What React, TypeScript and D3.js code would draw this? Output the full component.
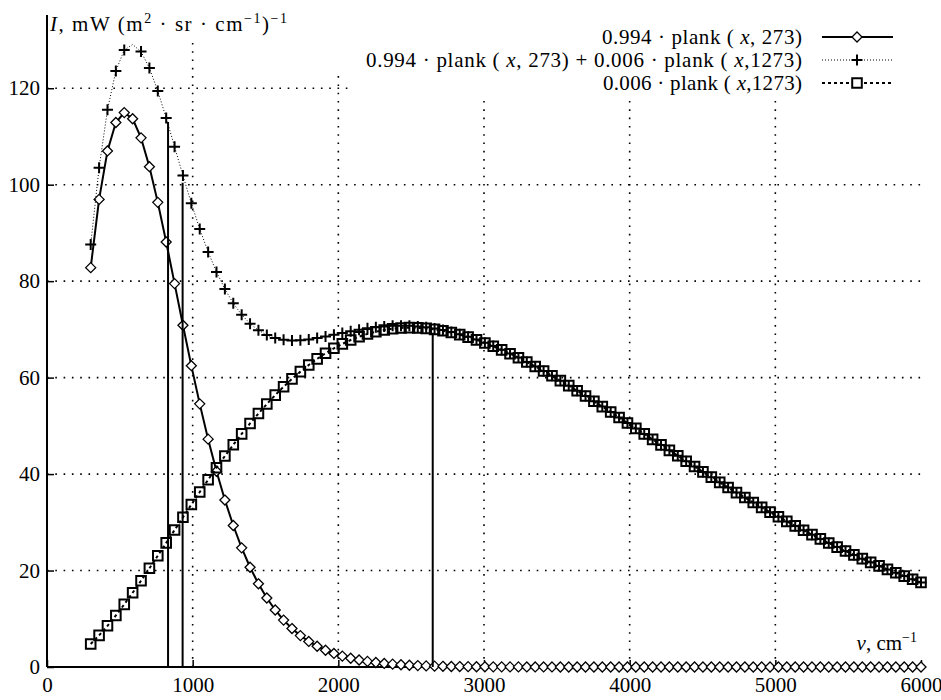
import React, { useRef, useEffect } from 'react';
import * as d3 from 'd3';

// wavenumber samples, cm^-1
const nu = [
  300, 357.6, 415.2, 472.7, 530.3, 587.9, 645.5, 703.0, 760.6, 818.2,
  875.8, 933.3, 990.9, 1048.5, 1106.1, 1163.6, 1221.2, 1278.8, 1336.4, 1393.9,
  1451.5, 1509.1, 1566.7, 1624.2, 1681.8, 1739.4, 1797.0, 1854.5, 1912.1, 1969.7,
  2027.3, 2084.8, 2142.4, 2200.0, 2257.6, 2315.2, 2372.7, 2430.3, 2487.9, 2545.5,
  2603.0, 2660.6, 2718.2, 2775.8, 2833.3, 2890.9, 2948.5, 3006.1, 3063.6, 3121.2,
  3178.8, 3236.4, 3293.9, 3351.5, 3409.1, 3466.7, 3524.2, 3581.8, 3639.4, 3697.0,
  3754.5, 3812.1, 3869.7, 3927.3, 3984.8, 4042.4, 4100.0, 4157.6, 4215.2, 4272.7,
  4330.3, 4387.9, 4445.5, 4503.0, 4560.6, 4618.2, 4675.8, 4733.3, 4790.9, 4848.5,
  4906.1, 4963.6, 5021.2, 5078.8, 5136.4, 5193.9, 5251.5, 5309.1, 5366.7, 5424.2,
  5481.8, 5539.4, 5597.0, 5654.5, 5712.1, 5769.7, 5827.3, 5884.8, 5942.4, 6000,
];

// 0.994 * plank(x, 273)
const cold = [
  82.80, 96.95, 107.00, 112.89, 114.95, 113.67, 109.71, 103.73, 96.34, 88.11,
  79.49, 70.85, 62.47, 54.56, 47.24, 40.58, 34.61, 29.33, 24.70, 20.69,
  17.25, 14.31, 11.82, 9.72, 7.97, 6.51, 5.30, 4.30, 3.48, 2.81,
  2.26, 1.81, 1.45, 1.16, 0.93, 0.74, 0.59, 0.47, 0.37, 0.29,
  0.23, 0.18, 0.14, 0.11, 0.09, 0.07, 0.05, 0.04, 0.03, 0.03,
  0.02, 0.02, 0.01, 0.01, 0.01, 0.01, 0, 0, 0, 0,
  0, 0, 0, 0, 0, 0, 0, 0, 0, 0,
  0, 0, 0, 0, 0, 0, 0, 0, 0, 0,
  0, 0, 0, 0, 0, 0, 0, 0, 0, 0,
  0, 0, 0, 0, 0, 0, 0, 0, 0, 0,
];

// 0.994 * plank(x, 273) + 0.006 * plank(x, 1273)
const mixed = [
  87.58, 103.51, 115.54, 123.58, 127.93, 129.06, 127.60, 124.19, 119.42, 113.84,
  107.88, 101.89, 96.15, 90.83, 86.06, 81.90, 78.35, 75.41, 73.04, 71.19,
  69.81, 68.83, 68.19, 67.83, 67.70, 67.75, 67.92, 68.19, 68.52, 68.89,
  69.25, 69.60, 69.93, 70.22, 70.45, 70.62, 70.73, 70.77, 70.73, 70.61,
  70.43, 70.18, 69.85, 69.45, 69.00, 68.47, 67.88, 67.23, 66.53, 65.79,
  64.98, 64.15, 63.25, 62.33, 61.38, 60.39, 59.37, 58.33, 57.27, 56.19,
  55.09, 53.99, 52.87, 51.74, 50.60, 49.47, 48.33, 47.19, 46.05, 44.92,
  43.79, 42.67, 41.56, 40.45, 39.36, 38.28, 37.22, 36.16, 35.13, 34.11,
  33.10, 32.11, 31.14, 30.19, 29.25, 28.34, 27.44, 26.56, 25.70, 24.86,
  24.04, 23.24, 22.46, 21.70, 20.96, 20.24, 19.53, 18.85, 18.18, 17.54,
];

// 0.006 * plank(x, 1273)
const hot = [
  4.78, 6.56, 8.54, 10.69, 12.98, 15.39, 17.89, 20.46, 23.08, 25.73,
  28.39, 31.04, 33.68, 36.27, 38.82, 41.32, 43.74, 46.08, 48.34, 50.50,
  52.56, 54.52, 56.37, 58.11, 59.73, 61.24, 62.62, 63.89, 65.04, 66.08,
  66.99, 67.79, 68.48, 69.06, 69.52, 69.88, 70.14, 70.30, 70.36, 70.32,
  70.20, 70.00, 69.71, 69.34, 68.91, 68.40, 67.83, 67.19, 66.50, 65.76,
  64.96, 64.13, 63.24, 62.32, 61.37, 60.38, 59.37, 58.33, 57.27, 56.19,
  55.09, 53.99, 52.87, 51.74, 50.60, 49.47, 48.33, 47.19, 46.05, 44.92,
  43.79, 42.67, 41.56, 40.45, 39.36, 38.28, 37.22, 36.16, 35.13, 34.11,
  33.10, 32.11, 31.14, 30.19, 29.25, 28.34, 27.44, 26.56, 25.70, 24.86,
  24.04, 23.24, 22.46, 21.70, 20.96, 20.24, 19.53, 18.85, 18.18, 17.54,
];

// vertical marker lines
const impulseX = [831, 931, 2648];
const impulseTop = [113.0, 100.4, 69.3];

const xTicks = [0, 1000, 2000, 3000, 4000, 5000, 6000];
const yTicks = [0, 20, 40, 60, 80, 100, 120];

const legendLabels = [
  [['0.994 · plank ( '], ['x', 'i'], [', 273)']],
  [['0.994 · plank ( '], ['x', 'i'], [', 273)  + 0.006 · plank ( '], ['x', 'i'], [',1273)']],
  [['0.006 · plank ( '], ['x', 'i'], [',1273)']],
];
const legendWidths = [200, 436, 199];

const FONT = "'Liberation Serif', 'DejaVu Serif', serif";

const markerPath = {
  diamond: (r) => `M0,${-r}L${r},0L0,${r}L${-r},0Z`,
  plus: (r) => `M${-r},0H${r}M0,${-r}V${r}`,
  square: (r) => `M${-r},${-r}H${r}V${r}H${-r}Z`,
};

function richText(sel, parts, supSize = 14, shift = 8) {
  let up = false;
  parts.forEach(([t, s]) => {
    const ts = sel.append('tspan').text(t);
    if (s === 'i') ts.style('font-style', 'italic');
    if (s === 'sup') {
      ts.style('font-size', `${supSize}px`);
      if (!up) ts.attr('dy', -shift);
      up = true;
    } else if (up) {
      ts.attr('dy', shift);
      up = false;
    }
  });
}

const App = () => {
  const ref = useRef(null);

  useEffect(() => {
    const svg = d3.select(ref.current);
    svg.selectAll('*').remove();

    const x = d3.scaleLinear().domain([0, 6000]).range([47, 921]);
    const y = d3.scaleLinear().domain([0, 130]).range([667, 40]);

    svg.append('rect').attr('width', 941).attr('height', 700).attr('fill', '#fff');

    // grid
    const grid = svg.append('g')
      .attr('stroke', '#000')
      .attr('stroke-width', 1.6)
      .attr('stroke-dasharray', '1.6 6.7');
    grid.selectAll('line.h')
      .data(yTicks.slice(1))
      .join('line')
      .attr('x1', x(0)).attr('x2', x(6000))
      .attr('y1', d => y(d)).attr('y2', d => y(d));
    grid.selectAll('line.v')
      .data(xTicks.slice(1, -1))
      .join('line')
      .attr('x1', d => x(d)).attr('x2', d => x(d))
      .attr('y1', y(0)).attr('y2', y(130));

    // opaque key area
    svg.append('rect').attr('x', 352).attr('y', 0).attr('width', 589).attr('height', 97).attr('fill', '#fff');
    svg.append('rect').attr('x', 300).attr('y', 0).attr('width', 52).attr('height', 70).attr('fill', '#fff');

    // axes ticks + labels
    const xAxis = svg.append('g')
      .attr('transform', `translate(0,${y(0)})`)
      .attr('font-family', null)
      .call(d3.axisBottom(x).tickValues(xTicks).tickSizeInner(-7).tickSizeOuter(0).tickPadding(10).tickFormat(d3.format('d')));
    xAxis.select('.domain').remove();
    xAxis.attr('font-family', null).style('font-family', FONT);
    xAxis.selectAll('line').attr('stroke-width', 1.5);
    xAxis.selectAll('text').style('font-family', FONT).style('font-size', '21px').attr('fill', '#000');

    const yAxis = svg.append('g')
      .attr('transform', `translate(${x(0)},0)`)
      .call(d3.axisLeft(y).tickValues(yTicks).tickSizeInner(-7).tickSizeOuter(0).tickPadding(7));
    yAxis.select('.domain').remove();
    yAxis.attr('font-family', null).style('font-family', FONT);
    yAxis.selectAll('line').attr('stroke-width', 1.5);
    yAxis.selectAll('text').style('font-family', FONT).style('font-size', '21px').attr('fill', '#000');

    // axis lines
    svg.append('line').attr('x1', x(0)).attr('x2', x(0)).attr('y1', 15).attr('y2', y(0))
      .attr('stroke', '#000').attr('stroke-width', 2);
    svg.append('line').attr('x1', x(0)).attr('x2', x(6000)).attr('y1', y(0)).attr('y2', y(0))
      .attr('stroke', '#000').attr('stroke-width', 2);

    const series = [
      { values: cold, dash: null, width: 2, marker: 'diamond', r: 5, fill: '#fff', mw: 1.3 },
      { values: mixed, dash: '1 2', width: 1, marker: 'plus', r: 5.5, fill: 'none', mw: 2 },
      { values: hot, dash: '3 3', width: 2, marker: 'square', r: 4.8, fill: 'none', mw: 2 },
    ];

    const line = d3.line().x(d => x(d[0])).y(d => y(d[1]));

    series.forEach(s => {
      const pts = nu.map((v, i) => [v, s.values[i]]);
      svg.append('path')
        .datum(pts)
        .attr('d', line)
        .attr('fill', 'none')
        .attr('stroke', '#000')
        .attr('stroke-width', s.width)
        .attr('stroke-dasharray', s.dash);
      svg.append('g')
        .selectAll('path')
        .data(pts.filter(p => y(p[1]) - s.r >= y(130)))
        .join('path')
        .attr('transform', p => `translate(${x(p[0])},${y(p[1])})`)
        .attr('d', markerPath[s.marker](s.r))
        .attr('fill', s.fill)
        .attr('stroke', '#000')
        .attr('stroke-width', s.mw);
    });

    // impulses
    svg.append('g')
      .selectAll('line')
      .data(impulseX)
      .join('line')
      .attr('x1', d => x(d)).attr('x2', d => x(d))
      .attr('y1', y(0)).attr('y2', (d, i) => y(impulseTop[i]))
      .attr('stroke', '#000').attr('stroke-width', 2);

    // legend
    const rowY = [37, 60, 83];
    const legend = svg.append('g').style('font-family', FONT).style('font-size', '21px');
    series.forEach((s, i) => {
      const t = legend.append('text')
        .attr('x', 802).attr('y', rowY[i]).attr('dy', '0.33em')
        .attr('text-anchor', 'end')
        .attr('textLength', legendWidths[i])
        .attr('lengthAdjust', 'spacing');
      richText(t, legendLabels[i]);
      legend.append('line')
        .attr('x1', 822).attr('x2', 893).attr('y1', rowY[i]).attr('y2', rowY[i])
        .attr('stroke', '#000').attr('stroke-width', s.width).attr('stroke-dasharray', s.dash);
      legend.append('path')
        .attr('transform', `translate(857,${rowY[i]})`)
        .attr('d', markerPath[s.marker](s.r))
        .attr('fill', s.fill === 'none' ? '#fff' : s.fill).attr('stroke', '#000').attr('stroke-width', s.mw);
    });

    // axis titles
    const yTitle = svg.append('text')
      .attr('x', 50).attr('y', 31)
      .attr('textLength', 237).attr('lengthAdjust', 'spacing')
      .style('font-family', FONT).style('font-size', '21px');
    richText(yTitle, [['I', 'i'], [', mW (m'], ['2', 'sup'], [' · sr · cm'], ['−1', 'sup'], [')'], ['−1', 'sup']]);

    const xTitle = svg.append('text')
      .attr('x', 917).attr('y', 650).attr('text-anchor', 'end')
      .style('font-family', FONT).style('font-size', '21px');
    richText(xTitle, [['ν', 'i'], [', cm'], ['−1', 'sup']]);
  }, []);

  return (
    <svg
      ref={ref}
      width={941}
      height={700}
      style={{ position: 'absolute', left: 0, top: 0, display: 'block' }}
    ></svg>
  );
};

export default App;
